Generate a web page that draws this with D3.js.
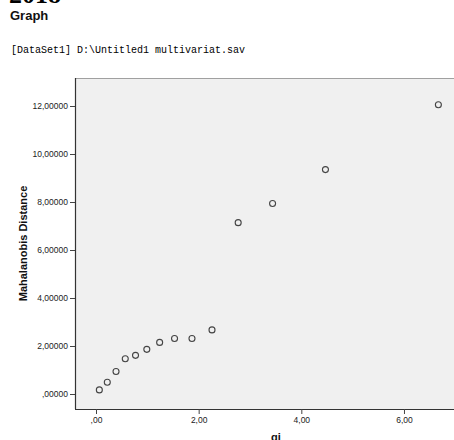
<!DOCTYPE html>
<html>
<head>
<meta charset="utf-8">
<script src="https://cdn.jsdelivr.net/npm/d3@7"></script>
<style>
  html, body { margin: 0; padding: 0; background: #ffffff; overflow: hidden; }
  svg { display: block; }
</style>
</head>
<body>
<svg id="chart" width="454" height="440"></svg>
<script>
// Data
const qiValues = [0.065, 0.22, 0.39, 0.57, 0.77, 0.99, 1.24, 1.53, 1.87, 2.26, 2.77, 3.44, 4.47, 6.67];
const mahalanobisValues = [0.17, 0.49, 0.94, 1.47, 1.61, 1.86, 2.15, 2.31, 2.31, 2.67, 7.14, 7.94, 9.35, 12.05];
const xTicks = [0, 2, 4, 6];
const xTickLabels = [",00", "2,00", "4,00", "6,00"];
const yTicks = [0, 2, 4, 6, 8, 10, 12];
const yTickLabels = [",00000", "2,00000", "4,00000", "6,00000", "8,00000", "10,00000", "12,00000"];
const titleText = "Graph";
const datasetText = "[DataSet1] D:\\Untitled1 multivariat.sav";
const xLabel = "qi";
const yLabel = "Mahalanobis Distance";

(function () {
const svg = d3.select("#chart");

// clipped heading at top
svg.append("text")
  .attr("x", 9).attr("y", 3)
  .attr("font-family", "Liberation Serif, serif")
  .attr("font-weight", "bold")
  .attr("font-size", 26)
  .attr("fill", "#000")
  .text("2018");

svg.append("text")
  .attr("x", 10).attr("y", 19.5)
  .attr("font-family", "Liberation Sans, Arial, sans-serif")
  .attr("font-weight", "bold")
  .attr("font-size", 13)
  .attr("fill", "#111")
  .text(titleText);

svg.append("text")
  .attr("x", 11).attr("y", 52.5)
  .attr("font-family", "Liberation Mono, Courier New, monospace")
  .attr("font-size", 10)
  .attr("fill", "#000")
  .attr("xml:space", "preserve")
  .text(datasetText);

const pLeft = 75, pRight = 477, pTop = 78, pBottom = 409;

const x = d3.scaleLinear()
  .domain([(pLeft - 96) / 51.33, (pRight - 96) / 51.33])
  .range([pLeft, pRight]);
const y = d3.scaleLinear()
  .domain([-(pBottom - 394) / 24, (394 - pTop) / 24])
  .range([pBottom, pTop]);

// plot background
svg.append("rect")
  .attr("x", pLeft).attr("y", pTop)
  .attr("width", pRight - pLeft).attr("height", pBottom - pTop)
  .attr("fill", "#f0f0f0");

// top frame line
svg.append("line")
  .attr("x1", pLeft).attr("x2", pRight)
  .attr("y1", pTop + 0.5).attr("y2", pTop + 0.5)
  .attr("stroke", "#a0a0a0").attr("stroke-width", 1);

// axes
const xAxis = d3.axisBottom(x)
  .tickValues(xTicks)
  .tickSize(5)
  .tickPadding(3)
  .tickFormat((d, i) => xTickLabels[i]);
const yAxis = d3.axisLeft(y)
  .tickValues(yTicks)
  .tickSize(5)
  .tickPadding(2)
  .tickFormat((d, i) => yTickLabels[i]);

const gx = svg.append("g")
  .attr("transform", `translate(0,${pBottom})`)
  .call(xAxis);
const gy = svg.append("g")
  .attr("transform", `translate(${pLeft},0)`)
  .call(yAxis);

[gx, gy].forEach(g => {
  g.select(".domain").attr("stroke", "#333").attr("stroke-width", 1.2);
  g.selectAll(".tick line").attr("stroke", "#444");
  g.selectAll(".tick text")
    .attr("font-family", "Liberation Sans, Arial, sans-serif")
    .attr("font-size", 8.5)
    .attr("fill", "#222");
});
gx.select(".domain").attr("d", `M${pLeft},0.5H${pRight}`);
gy.select(".domain").attr("d", `M0.5,${pTop}V${pBottom}`);

// axis titles
svg.append("text")
  .attr("x", (pLeft + pRight) / 2).attr("y", 441)
  .attr("text-anchor", "middle")
  .attr("font-family", "Liberation Sans, Arial, sans-serif")
  .attr("font-weight", "bold")
  .attr("font-size", 11)
  .attr("fill", "#111")
  .text(xLabel);

svg.append("text")
  .attr("transform", `translate(26.5,243.5) rotate(-90)`)
  .attr("text-anchor", "middle")
  .attr("font-family", "Liberation Sans, Arial, sans-serif")
  .attr("font-weight", "bold")
  .attr("font-size", 11)
  .attr("fill", "#111")
  .text(yLabel);

// points
const pts = qiValues.map((v, i) => ({ qi: v, md: mahalanobisValues[i] }));
svg.append("g")
  .selectAll("circle")
  .data(pts)
  .join("circle")
  .attr("cx", d => x(d.qi))
  .attr("cy", d => y(d.md))
  .attr("r", 3)
  .attr("fill", "none")
  .attr("stroke", "#444")
  .attr("stroke-width", 1.1);
})();
</script>
</body>
</html>
